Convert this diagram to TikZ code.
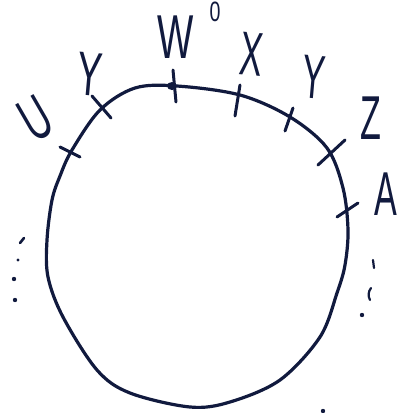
\documentclass[tikz,border=0pt]{standalone}
\usepackage{fontspec}
\setmainfont{Liberation Sans}
\definecolor{ink}{HTML}{111A3E}
\tikzset{
  pen/.style={draw=ink, line width=3.2pt, line cap=round, line join=round},
  tickmark/.style={draw=ink, line width=3pt, line cap=round},
  letter/.style={text=ink, inner sep=0pt, font=\fontsize{62}{62}\selectfont},
  speck/.style={fill=ink, draw=none}
}
\begin{document}
\begin{tikzpicture}[x=1pt,y=-1pt]
\useasboundingbox (0,0) rectangle (399,413);
\fill[white] (0,0) rectangle (399,413);
% the circle
\draw[pen] plot[smooth cycle, tension=0.55] coordinates {
 (177,86) (240,95) (290,117) (327,148) (343,188) (348,230) (345,265)
 (337,293) (320,337) (280,380) (230,402) (190,407) (130,393) (97,370)
 (63,317) (48,277) (47,240) (52,200) (60,176) (72,150) (100,110) (135,88)};
% tick marks
\coordinate (u1) at (60,147); \coordinate (u2) at (80,157);
\coordinate (v1) at (92,96);  \coordinate (v2) at (111,118);
\coordinate (w1) at (173,70); \coordinate (w2) at (176,102);
\coordinate (x1) at (240,85); \coordinate (x2) at (235,116);
\coordinate (y1) at (293,108); \coordinate (y2) at (285,131);
\coordinate (z1) at (345,140); \coordinate (z2) at (318,165);
\coordinate (a1) at (358,203); \coordinate (a2) at (337,217);
\draw[tickmark] (u1) -- (u2);
\draw[tickmark] (v1) -- (v2);
\draw[tickmark] (w1) -- (w2);
\draw[tickmark] (x1) -- (x2);
\draw[tickmark] (y1) -- (y2);
\draw[tickmark] (z1) -- (z2);
\draw[tickmark] (a1) -- (a2);
\fill[ink] (172,86) ellipse (5pt and 4pt);
% labels
\node[letter, rotate=30] (U) at (36,119) {\scalebox{0.6}[1]{U}};
\node[letter, rotate=-5] (Yl) at (90,74) {\scalebox{0.6}[1]{Y}};
\node[letter] (W) at (176,37) {\scalebox{0.62}[1]{W}};
\node[text=ink, inner sep=0pt, font=\fontsize{28}{28}\selectfont] (O) at (215,12) {\scalebox{0.7}[1]{0}};
\node[letter, rotate=-5] (X) at (252,54) {\scalebox{0.55}[1]{X}};
\node[letter, rotate=-5] (Yr) at (314,77) {\scalebox{0.55}[1]{Y}};
\node[letter] (Z) at (371,118) {\scalebox{0.55}[1]{Z}};
\node[letter] (A) at (386,194) {\scalebox{0.55}[1]{A}};
% dots
\draw[ink, line width=2.6pt, line cap=round] (20,243) -- (24,238);
\fill[speck] (18,260) circle (1.6pt);
\fill[speck] (14,279) circle (2.2pt);
\fill[speck] (15,300) circle (2.2pt);
\draw[ink, line width=2.2pt, line cap=round] (373,260) -- (374,268);
\draw[ink, line width=2.2pt, line cap=round] (371,288) .. controls (368,292) and (368,296) .. (370,300);
\fill[speck] (362,315) circle (2.2pt);
\fill[speck] (323,411) circle (2.2pt);
\end{tikzpicture}
\end{document}
